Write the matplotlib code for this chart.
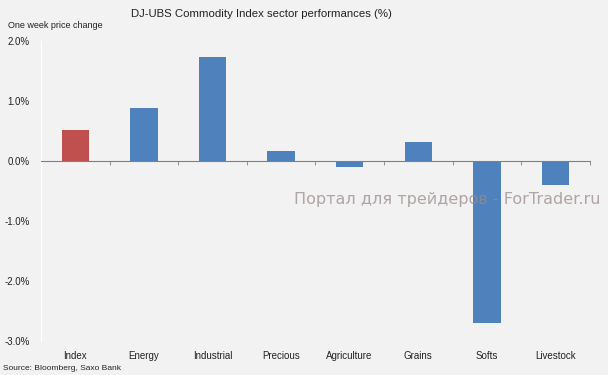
import numpy as np
from matplotlib import pyplot as plt
from matplotlib.ticker import FuncFormatter

# data
sectors = ["Index", "Energy", "Industrial", "Precious", "Agriculture", "Grains", "Softs", "Livestock"]
change = [0.52, 0.88, 1.73, 0.17, -0.10, 0.32, -2.70, -0.40]
bar_colors = ["#c0504d"] + ["#4f81bd"] * 7

plt.rcParams["font.family"] = ["Liberation Sans", "DejaVu Sans"]

bg = "#f2f2f2"
fig = plt.figure(figsize=(6.08, 3.75), dpi=100, facecolor=bg)
ax = fig.add_axes([0.0674, 0.0907, 0.9026, 0.80], facecolor=bg)

x = np.arange(len(sectors))
ax.bar(x, change, width=0.4, color=bar_colors, zorder=2)

ax.set_xlim(-0.5, len(sectors) - 0.5)
ax.set_ylim(-3.0, 2.0)
ax.set_yticks(np.arange(-3, 2.01, 1.0))
ax.yaxis.set_major_formatter(FuncFormatter(lambda v, p: f"{v:.1f}%"))
ax.tick_params(axis="y", length=0, labelsize=7, pad=8, colors="#222222")

# zero line with category separator ticks
for s in ["top", "right"]:
    ax.spines[s].set_visible(False)
ax.spines["left"].set_color("white")
ax.spines["bottom"].set_position(("data", 0))
ax.spines["bottom"].set_color("#808080")
ax.spines["bottom"].set_zorder(3)
ax.set_xticks(x)
ax.set_xticklabels([])
ax.set_xticks(np.arange(-0.5, len(sectors)), minor=True)
ax.tick_params(axis="x", which="major", length=0)
ax.tick_params(axis="x", which="minor", length=3, color="#808080", direction="out")

# category names at the bottom of the plot
sec = ax.secondary_xaxis("bottom")
sec.set_xticks(x)
sec.set_xticklabels(sectors, fontsize=7, color="#222222")
sec.tick_params(length=0, pad=7)
sec.spines["bottom"].set_visible(False)

fig.text(0.43, 0.962, "DJ-UBS Commodity Index sector performances (%)",
         ha="center", va="center", fontsize=8.2, color="#222222")
fig.text(0.013, 0.933, "One week price change", ha="left", va="center", fontsize=6.5, color="#222222")
fig.text(0.005, 0.018, "Source: Bloomberg, Saxo Bank", ha="left", va="center", fontsize=6, color="#222222")
fig.text(0.735, 0.468, "Портал для трейдеров - ForTrader.ru", ha="center", va="center",
         family="DejaVu Sans", fontsize=11.5, color="#9a8a8a", alpha=0.75, zorder=5)

plt.savefig("out.png", dpi=100, facecolor=bg)
